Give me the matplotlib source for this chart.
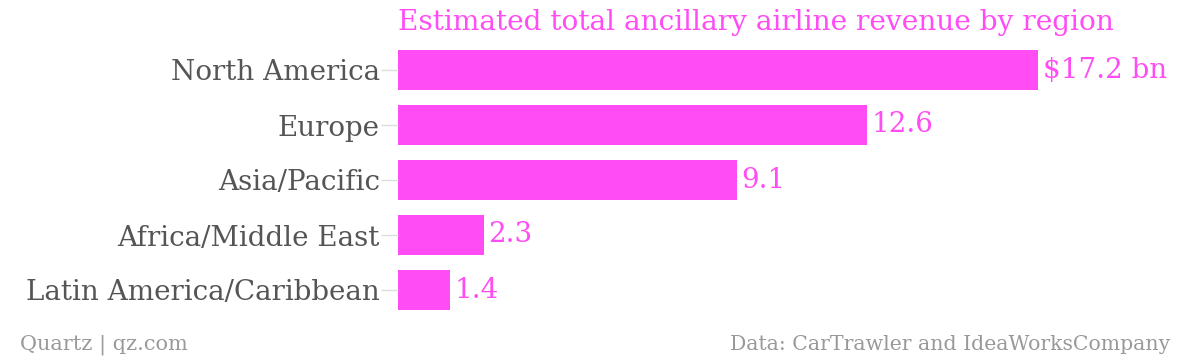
import matplotlib.pyplot as plt

regions = ["North America", "Europe", "Asia/Pacific", "Africa/Middle East", "Latin America/Caribbean"]
revenue = [17.2, 12.6, 9.1, 2.3, 1.4]
value_labels = ["$17.2 bn", "12.6", "9.1", "2.3", "1.4"]

pink = "#ff4cf5"
grey = "#999999"
plt.rcParams['font.family'] = ['DejaVu Serif']

fig = plt.figure(figsize=(12, 3.6), dpi=100)
ax = fig.add_axes([398 / 1200, 42.5 / 360, 782 / 1200, 275 / 360])

ypos = list(range(len(regions)))
ax.barh(ypos, revenue, height=40 / 55, color=pink)
ax.set_xlim(0, 21)
ax.set_ylim(4.5, -0.5)

for y, v, lab in zip(ypos, revenue, value_labels):
    ax.text(v + 0.12, y, lab, color=pink, fontsize=20, va='center', ha='left')

ax.set_yticks(ypos)
ax.set_yticklabels(regions, fontsize=20, color="#555555")
ax.tick_params(axis='y', length=12, width=1, color="#dddddd", pad=1)
ax.set_xticks([])
for s in ax.spines.values():
    s.set_visible(False)

fig.text(398 / 1200, 1 - 22 / 360, "Estimated total ancillary airline revenue by region",
         color=pink, fontsize=20.2, va='center', ha='left')
fig.text(20 / 1200, 1 - 345 / 360, "Quartz | qz.com", color=grey, fontsize=15, va='center', ha='left')
fig.text(1170 / 1200, 1 - 345 / 360, "Data: CarTrawler and IdeaWorksCompany", color=grey,
         fontsize=14.7, va='center', ha='right')

fig.savefig("out.png", dpi=100)
